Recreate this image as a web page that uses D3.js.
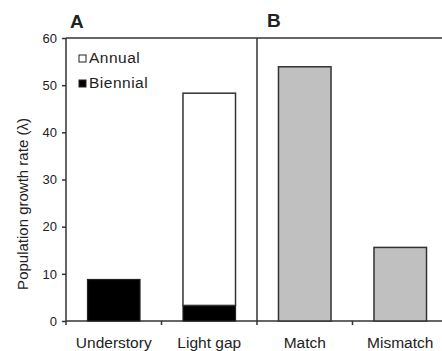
<!DOCTYPE html>
<html lang="en">
<head>
<meta charset="utf-8">
<title>Population growth rate</title>
<script src="https://d3js.org/d3.v7.min.js"></script>
<style>
  body { margin: 0; background: #fff; }
  svg { display: block; font-family: "Liberation Sans", Arial, sans-serif; }
  .axis path, .axis line { stroke: #333; stroke-width: 1.5; }
  .axis text { fill: #222; }
</style>
</head>
<body>
<svg width="442" height="351"></svg>
<script>
// data
var categories = ["Understory", "Light gap", "Match", "Mismatch"];
var biennial = [8.8, 3.3];      // panel A, black part
var annual = [0, 45.0];         // panel A, white part stacked on top
var matchValues = [53.9, 15.6]; // panel B, grey bars
var yTicks = [0, 10, 20, 30, 40, 50, 60];

var svg = d3.select("svg");
var plotLeft = 66, plotTop = 38, plotBottom = 321, plotRight = 448;

var x = d3.scaleBand().domain(categories).range([plotLeft, plotRight])
  .paddingInner(0.45).paddingOuter(0.225);
var y = d3.scaleLinear().domain([0, 60]).range([plotBottom, plotTop]);
var step = x.step();

// frame: top line and the A|B divider
svg.append("line").attr("x1", plotLeft).attr("x2", 442).attr("y1", plotTop).attr("y2", plotTop)
  .attr("stroke", "#333").attr("stroke-width", 1.5);
svg.append("line").attr("x1", plotLeft + 2 * step).attr("x2", plotLeft + 2 * step)
  .attr("y1", plotTop).attr("y2", plotBottom).attr("stroke", "#333").attr("stroke-width", 1.5);

// y axis
var yAxis = svg.append("g").attr("class", "axis")
  .attr("transform", "translate(" + plotLeft + ",0)")
  .call(d3.axisLeft(y).tickValues(yTicks).tickSize(4).tickSizeOuter(0).tickPadding(5));
yAxis.select(".domain").attr("d", "M0," + plotTop + "V" + (plotBottom + 4));
yAxis.selectAll("text").style("font-size", "13px");

// x axis: ticks between the categories
var xg = svg.append("g").attr("class", "axis");
xg.append("line").attr("x1", plotLeft).attr("x2", 442).attr("y1", plotBottom).attr("y2", plotBottom);
xg.selectAll("line.tk").data([1, 2, 3]).enter().append("line").attr("class", "tk")
  .attr("x1", function(d) { return plotLeft + d * step; })
  .attr("x2", function(d) { return plotLeft + d * step; })
  .attr("y1", plotBottom).attr("y2", plotBottom + 4);
xg.selectAll("text").data(categories).enter().append("text")
  .attr("x", function(d) { return x(d) + x.bandwidth() / 2; })
  .attr("y", 348)
  .attr("text-anchor", "middle")
  .style("font-size", "15.5px")
  .text(function(d) { return d; });

// panel A bars
var panelA = categories.slice(0, 2);
svg.selectAll("rect.bien").data(panelA).enter().append("rect").attr("class", "bien")
  .attr("x", function(d) { return x(d); })
  .attr("width", x.bandwidth())
  .attr("y", function(d, i) { return y(biennial[i]); })
  .attr("height", function(d, i) { return y(0) - y(biennial[i]); })
  .attr("fill", "#000").attr("stroke", "#222").attr("stroke-width", 1.2);
svg.selectAll("rect.ann").data(panelA.filter(function(d, i) { return annual[i] > 0; }))
  .enter().append("rect").attr("class", "ann")
  .attr("x", function(d) { return x(d); })
  .attr("width", x.bandwidth())
  .attr("y", function(d) { var i = panelA.indexOf(d); return y(biennial[i] + annual[i]); })
  .attr("height", function(d) { var i = panelA.indexOf(d); return y(biennial[i]) - y(biennial[i] + annual[i]); })
  .attr("fill", "#fff").attr("stroke", "#333").attr("stroke-width", 1.5);

// panel B bars
svg.selectAll("rect.mm").data(categories.slice(2)).enter().append("rect").attr("class", "mm")
  .attr("x", function(d) { return x(d); })
  .attr("width", x.bandwidth())
  .attr("y", function(d, i) { return y(matchValues[i]); })
  .attr("height", function(d, i) { return y(0) - y(matchValues[i]); })
  .attr("fill", "#c0c0c0").attr("stroke", "#333").attr("stroke-width", 1.5);

// legend
var legend = [{ label: "Annual", fill: "#fff" }, { label: "Biennial", fill: "#000" }];
var lg = svg.selectAll("g.leg").data(legend).enter().append("g").attr("class", "leg")
  .attr("transform", function(d, i) { return "translate(79," + (55 + i * 25) + ")"; });
lg.append("rect").attr("width", 7).attr("height", 7)
  .attr("fill", function(d) { return d.fill; }).attr("stroke", "#222").attr("stroke-width", 1);
lg.append("text").attr("x", 10).attr("y", 7.5)
  .style("font-size", "15.5px").style("letter-spacing", "0.5px").attr("fill", "#222")
  .text(function(d) { return d.label; });

// panel letters
svg.append("text").attr("x", 70).attr("y", 28).style("font-size", "19px")
  .style("font-weight", "bold").attr("fill", "#222").text("A");
svg.append("text").attr("x", 267).attr("y", 27).style("font-size", "19px")
  .style("font-weight", "bold").attr("fill", "#222").text("B");

// y title
svg.append("text").attr("transform", "translate(28," + 204 + ") rotate(-90)")
  .attr("text-anchor", "middle").style("font-size", "15px").attr("fill", "#222")
  .text("Population growth rate (\u03bb)");
</script>
</body>
</html>
